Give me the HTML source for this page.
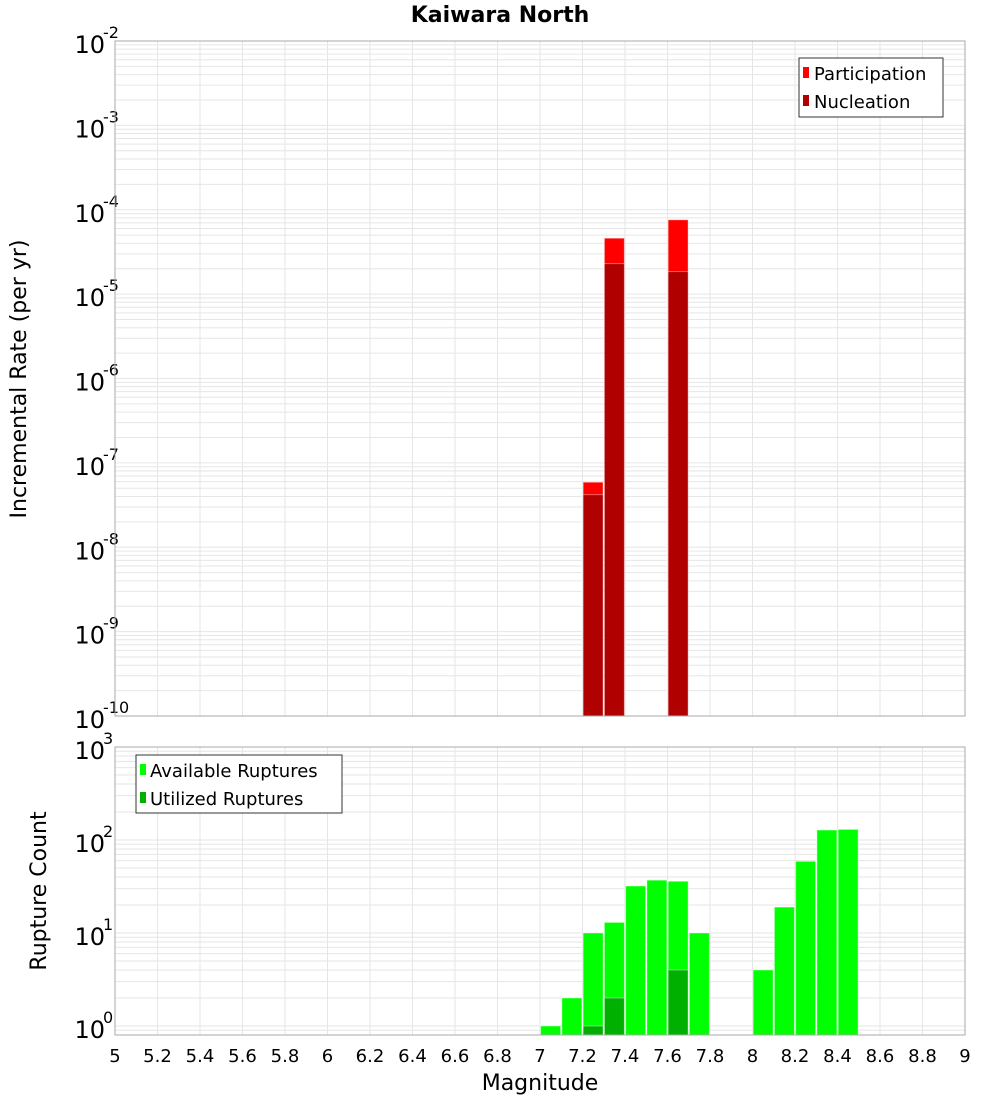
<!DOCTYPE html>
<html><head><meta charset="utf-8"><style>
body{margin:0;background:#fff;font-family:"Liberation Sans","DejaVu Sans",sans-serif;}
svg text{font-family:"DejaVu Sans","Liberation Sans",sans-serif;}
</style></head><body>
<svg id="chart" width="1000" height="1100" xmlns="http://www.w3.org/2000/svg">
<text x="500" y="22" text-anchor="middle" font-size="22" font-weight="bold">Kaiwara North</text>
<g id="topPlot"></g>
<g id="botPlot"></g>
<text transform="translate(26,379) rotate(-90)" text-anchor="middle" font-size="22">Incremental Rate (per yr)</text>
<text transform="translate(46,891) rotate(-90)" text-anchor="middle" font-size="22">Rupture Count</text>
<text x="540" y="1090" text-anchor="middle" font-size="22">Magnitude</text>
<g>
<rect x="799" y="58" width="144" height="59" fill="#fff" stroke="#333"/>
<rect x="803" y="67" width="6" height="11" fill="#ff0000"/>
<text x="814" y="80" font-size="18">Participation</text>
<rect x="803" y="95" width="6" height="11" fill="#b00000"/>
<text x="814" y="108" font-size="18">Nucleation</text>
</g>
<g>
<rect x="136" y="755" width="206" height="58" fill="#fff" stroke="#333"/>
<rect x="140" y="764" width="6" height="11" fill="#00ff00"/>
<text x="150" y="777" font-size="18">Available Ruptures</text>
<rect x="140" y="792" width="6" height="11" fill="#00b000"/>
<text x="150" y="805" font-size="18">Utilized Ruptures</text>
</g>
</svg>
<script>
const rateMags = [7.25, 7.35, 7.65];
const participation = [5.9e-8, 4.6e-5, 7.6e-5];
const nucleation = [4.2e-8, 2.3e-5, 1.85e-5];
const countMags = [7.05, 7.15, 7.25, 7.35, 7.45, 7.55, 7.65, 7.75, 8.05, 8.15, 8.25, 8.35, 8.45];
const available = [1, 2, 10, 13, 32, 37, 36, 10, 4, 19, 59, 128, 130];
const utilMags = [7.25, 7.35, 7.65];
const utilized = [1, 2, 4];
const xTicks = [5,5.2,5.4,5.6,5.8,6,6.2,6.4,6.6,6.8,7,7.2,7.4,7.6,7.8,8,8.2,8.4,8.6,8.8,9];
const topExps = [-10,-9,-8,-7,-6,-5,-4,-3,-2];
const botExps = [0,1,2,3];

const NS="http://www.w3.org/2000/svg";
const X0=115,X1=965;
const xs=m=>X0+(m-5)/4*(X1-X0);
function mk(parent,tag,attrs){const e=document.createElementNS(NS,tag);for(const k in attrs)e.setAttribute(k,attrs[k]);parent.appendChild(e);return e;}
function panel(g,y0,y1,lmin,lmax,exps,name){
  const ys=v=>y1-(Math.log10(v)-lmin)/(lmax-lmin)*(y1-y0);
  for(let e=Math.floor(lmin);e<lmax;e++){for(let k=1;k<10;k++){const v=k*Math.pow(10,e);const lv=Math.log10(v);if(lv<lmin||lv>lmax)continue;const y=ys(v);
    const l=mk(g,'line',{x1:X0,x2:X1,y1:y,y2:y,stroke:'#e6e6e6','stroke-width':1});
    
    }}
  xTicks.forEach(t=>{const l=mk(g,'line',{x1:xs(t),x2:xs(t),y1:y0,y2:y1,stroke:'#e6e6e6','stroke-width':1});
    
    });
  exps.forEach(e=>{const y=ys(Math.pow(10,e));
    const t=mk(g,'text',{x:105,y:y+12,'text-anchor':'end','font-size':24});
    
    
    t.textContent='10';
    const s=mk(g,'text',{x:103,y:y-3,'font-size':16});
    
    
    s.textContent=String(e);});
  return ys;
}
function bar(g,m,v,ys,y1,fill,nm){const w=(X1-X0)/4*0.094;const y=ys(v);
  const r=mk(g,'rect',{x:xs(m)-w/2,y:y,width:w,height:y1-y,fill:fill,stroke:'rgba(255,255,255,0.4)','stroke-width':1});
  
  }
const topG=document.getElementById('topPlot');
const ysT=panel(topG,41,716,-10,-2,topExps,'rate');
rateMags.forEach((m,i)=>bar(topG,m,participation[i],ysT,716,'#ff0000','participation-bar'));
rateMags.forEach((m,i)=>bar(topG,m,nucleation[i],ysT,716,'#b00000','nucleation-bar'));
mk(topG,'rect',{x:X0,y:41,width:X1-X0,height:675,fill:'none',stroke:'#aaa'});
const botG=document.getElementById('botPlot');
const lminB=-9/93;
const ysB=panel(botG,747,1035,lminB,3,botExps,'count');
countMags.forEach((m,i)=>bar(botG,m,available[i],ysB,1035,'#00ff00','available-bar'));
utilMags.forEach((m,i)=>bar(botG,m,utilized[i],ysB,1035,'#00b000','utilized-bar'));
mk(botG,'rect',{x:X0,y:747,width:X1-X0,height:288,fill:'none',stroke:'#aaa'});
xTicks.forEach(t=>{const e=mk(botG,'text',{x:xs(t),y:1062,'text-anchor':'middle','font-size':18});
  
  
  e.textContent=String(t);});
</script>
</body></html>
